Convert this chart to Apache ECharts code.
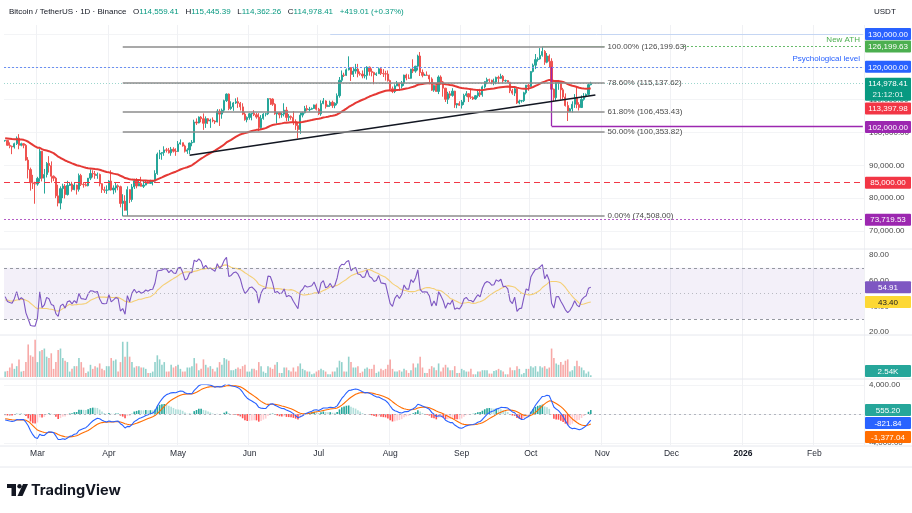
<!DOCTYPE html>
<html><head><meta charset="utf-8">
<script src="https://cdn.jsdelivr.net/npm/echarts@6/dist/echarts.min.js"></script>
<style>html,body{margin:0;padding:0;background:#fff}#c{width:912px;height:513px}</style>
</head><body><div id="c"></div>
<script>
// ---------- DATA (prices in thousands of USDT, volume in thousands of BTC) ----------
const startDate = [2025, 1, 15];      // 15 Feb 2025 (first candle)
const totalDays = 373;                // time axis runs to 22 Feb 2026
// closes before the first visible candle (27 Dec 2024 .. 14 Feb 2025), used only to warm up indicators
const warmupCloses = [94.2,95.1,93.7,92.8,93.6,94.6,97.0,98.1,98.2,98.3,102.2,96.9,95.0,92.5,94.7,94.5,94.5,94.5,96.5,100.5,99.9,104.1,104.4,101.3,102.2,106.1,103.6,104.0,104.7,104.7,102.6,102.0,101.3,103.7,104.7,102.4,100.6,97.7,101.4,97.9,96.6,96.5,96.5,96.5,96.4,97.4,95.7,97.8,96.6,97.5];
const opens = [97.5,97.6,96.1,95.8,95.6,96.6,98.3,96.1,96.6,96.1,91.6,88.7,84.7,84.4,
84.3,86.0,94.3,86.1,87.2,90.6,89.9,86.7,86.1,80.7,78.5,82.9,83.7,81.1,83.9,84.3,82.6,84.0,82.7,86.9,84.2,84.1,83.8,86.1,87.5,87.4,86.9,87.2,84.4,82.6,82.4,
82.5,85.2,82.5,83.1,83.8,83.5,78.4,79.1,76.3,82.6,79.6,83.4,85.3,83.7,84.5,83.6,84.0,84.9,84.5,85.1,85.2,87.5,93.4,93.7,93.9,94.7,94.6,93.8,94.9,94.3,
94.2,96.5,96.9,95.9,94.3,94.7,96.8,97.0,103.2,102.9,104.7,104.2,102.8,104.2,103.5,103.8,103.5,103.2,106.5,105.6,106.8,109.7,111.7,107.3,107.8,109.0,109.4,108.9,107.8,105.6,103.9,
104.6,105.7,105.9,105.4,104.7,101.5,104.3,105.6,105.7,110.3,110.2,108.6,105.7,106.1,105.4,105.6,106.8,104.6,104.9,104.6,103.3,102.1,100.9,105.3,106.0,107.3,106.9,107.1,107.3,108.4,
107.1,105.7,108.8,109.6,107.9,108.2,109.2,108.2,108.9,111.2,115.9,117.5,117.4,119.1,119.8,117.7,118.7,119.3,117.9,117.8,117.2,117.4,119.9,118.6,118.3,117.6,117.9,119.4,118.0,117.9,117.8,
115.8,113.3,112.5,114.2,115.0,114.1,115.0,117.5,116.6,116.5,119.3,118.7,120.2,123.3,118.3,117.4,117.5,117.4,116.3,112.9,114.3,112.5,116.9,115.4,113.5,110.1,111.8,111.3,112.6,108.4,108.8,
108.3,109.3,111.3,111.8,110.8,110.7,110.2,111.2,112.1,111.5,113.9,115.5,116.1,115.9,115.3,115.4,116.8,116.5,117.1,115.7,115.8,115.3,112.7,112.0,113.3,109.0,109.6,109.7,112.1,114.4,
114.0,118.6,120.5,122.2,122.4,123.5,124.7,121.4,123.3,121.7,113.2,110.6,115.2,115.3,113.0,110.8,108.2,106.4,107.2,108.6,110.6,108.5,107.6,110.1,111.0,111.6,114.559];
const highs = [97.7,97.7,97.0,96.0,96.9,98.8,99.5,96.9,96.7,96.5,92.5,89.3,87.1,85.0,
86.5,95.0,94.4,88.9,91.0,92.8,91.2,86.9,86.5,84.1,83.6,84.4,84.3,85.3,84.7,85.0,84.7,84.1,87.5,87.4,84.9,84.6,86.1,88.8,88.5,88.3,87.8,87.5,84.6,83.5,83.9,
85.5,88.5,83.9,84.7,84.2,83.8,81.2,80.9,83.6,82.7,84.3,85.9,86.1,85.8,86.5,85.5,85.5,85.1,85.6,85.3,88.5,93.9,94.7,94.0,95.8,95.3,95.3,95.6,95.5,95.2,
97.4,97.9,96.9,96.3,95.2,96.9,97.7,103.9,104.3,104.9,105.0,105.8,104.9,104.4,104.2,104.6,103.7,107.1,107.1,107.3,110.0,111.9,111.9,109.5,109.3,110.4,110.7,109.3,108.9,106.3,104.9,
105.9,105.9,106.8,106.0,105.9,105.3,105.9,106.0,110.5,110.4,110.4,108.9,106.2,106.2,106.1,108.9,107.8,105.6,105.2,106.5,104.0,103.1,106.1,106.3,108.1,108.3,107.8,107.6,108.5,108.8,
107.5,109.8,110.5,109.8,108.5,109.7,109.7,109.2,111.9,116.9,118.9,118.2,119.5,123.2,119.9,120.0,120.9,120.9,118.6,118.9,119.7,120.2,120.1,119.5,118.5,118.3,119.8,119.8,119.3,118.8,118.9,
116.1,114.0,114.7,115.7,115.1,115.7,117.6,117.9,117.7,119.4,122.3,120.3,123.7,124.5,119.2,117.9,118.6,117.6,116.8,114.6,114.8,117.4,117.4,115.7,113.6,112.4,112.6,113.5,112.7,108.9,109.5,
109.9,111.8,112.6,112.0,113.4,111.0,111.4,112.9,113.3,114.3,115.6,116.7,116.4,116.1,116.4,117.0,117.3,117.9,117.5,116.1,115.9,115.4,113.3,114.0,113.5,110.0,109.8,112.4,114.5,114.8,
118.7,121.0,123.9,122.9,125.7,126.2,125.1,124.2,123.8,122.6,113.4,115.8,116.0,115.6,113.6,111.9,109.4,107.5,109.5,111.7,114.0,109.2,111.3,112.0,111.9,115.0,115.445];
const lows = [97.2,96.0,95.2,93.4,95.1,96.2,94.9,95.8,95.2,91.4,86.0,82.3,82.8,78.3,
83.8,85.0,85.1,81.4,86.3,87.8,84.7,85.2,80.0,77.5,76.6,80.0,79.9,80.8,83.7,82.0,82.4,81.1,82.0,83.7,83.2,83.6,83.6,85.5,86.3,85.9,85.9,83.6,81.6,81.6,81.3,
82.4,82.3,81.2,81.7,82.4,77.2,74.5,76.2,74.6,78.5,78.9,82.8,83.0,83.7,83.6,83.1,83.9,84.3,84.4,83.9,85.1,87.1,91.9,91.7,92.9,93.9,93.6,92.9,93.9,92.9,
94.1,96.3,95.7,93.9,93.5,93.4,95.8,96.9,102.3,102.8,103.1,100.8,101.4,102.6,101.4,103.1,102.6,103.1,102.0,104.2,106.1,109.3,106.8,106.9,106.6,108.7,107.5,106.7,105.3,103.6,103.1,
103.9,103.7,105.0,104.2,100.4,101.1,103.9,104.9,105.3,108.4,108.1,105.4,102.7,104.3,104.5,104.9,103.4,103.5,103.9,102.3,100.8,98.2,99.6,104.6,105.8,106.6,106.4,106.9,107.2,106.7,
105.3,105.1,108.6,107.3,107.8,107.8,107.5,107.4,108.3,110.6,115.2,116.9,117.2,118.9,115.7,116.9,117.9,116.8,117.3,116.5,116.5,116.1,117.3,117.1,114.7,117.2,117.9,117.5,116.9,115.8,115.5,
112.7,112.0,112.0,114.1,112.7,113.4,114.2,115.9,116.3,116.4,118.1,118.2,118.9,117.2,116.8,117.2,117.3,114.7,112.7,112.4,112.4,111.7,114.6,110.9,109.3,108.7,110.4,110.9,107.5,107.4,108.1,
107.3,108.4,110.9,109.3,110.2,109.9,110.0,110.6,110.8,110.9,113.4,114.7,115.2,114.7,114.4,114.7,114.8,116.3,115.1,115.4,115.2,112.0,111.5,111.1,108.7,108.6,109.1,109.3,111.6,112.7,
113.9,118.3,119.3,121.6,122.2,123.1,120.6,121.1,119.7,102.0,109.6,109.6,113.0,110.0,110.2,107.9,103.5,106.3,106.1,107.5,107.4,106.7,107.5,109.7,110.7,111.3,114.362];
const closes = [97.6,96.1,95.8,95.6,96.6,98.3,96.1,96.6,96.1,91.6,88.7,84.7,84.4,84.3,
86.0,94.3,86.1,87.2,90.6,89.9,86.7,86.1,80.7,78.5,82.9,83.7,81.1,83.9,84.3,82.6,84.0,82.7,86.9,84.2,84.1,83.8,86.1,87.5,87.4,86.9,87.2,84.4,82.6,82.4,82.5,
85.2,82.5,83.1,83.8,83.5,78.4,79.1,76.3,82.6,79.6,83.4,85.3,83.7,84.5,83.6,84.0,84.9,84.5,85.1,85.2,87.5,93.4,93.7,93.9,94.7,94.6,93.8,94.9,94.3,94.2,
96.5,96.9,95.9,94.3,94.7,96.8,97.0,103.2,102.9,104.7,104.2,102.8,104.2,103.5,103.8,103.5,103.2,106.5,105.6,106.8,109.7,111.7,107.3,107.8,109.0,109.4,108.9,107.8,105.6,103.9,104.6,
105.7,105.9,105.4,104.7,101.5,104.3,105.6,105.7,110.3,110.2,108.6,105.7,106.1,105.4,105.6,106.8,104.6,104.9,104.6,103.3,102.1,100.9,105.3,106.0,107.3,106.9,107.1,107.3,108.4,107.1,
105.7,108.8,109.6,107.9,108.2,109.2,108.2,108.9,111.2,115.9,117.5,117.4,119.1,119.8,117.7,118.7,119.3,117.9,117.8,117.2,117.4,119.9,118.6,118.3,117.6,117.9,119.4,118.0,117.9,117.8,115.8,
113.3,112.5,114.2,115.0,114.1,115.0,117.5,116.6,116.5,119.3,118.7,120.2,123.3,118.3,117.4,117.5,117.4,116.3,112.9,114.3,112.5,116.9,115.4,113.5,110.1,111.8,111.3,112.6,108.4,108.8,108.3,
109.3,111.3,111.8,110.8,110.7,110.2,111.2,112.1,111.5,113.9,115.5,116.1,115.9,115.3,115.4,116.8,116.5,117.1,115.7,115.8,115.3,112.7,112.0,113.3,109.0,109.6,109.7,112.1,114.4,114.0,
118.6,120.5,122.2,122.4,123.5,124.7,121.4,123.3,121.7,113.2,110.6,115.2,115.3,113.0,110.8,108.2,106.4,107.2,108.6,110.6,108.5,107.6,110.1,111.0,111.6,114.56,114.978];
const volumes = [8,9,14,20,12,16,26,8,9,22,48,32,30,55,
22,38,40,42,30,28,35,12,22,40,42,28,24,22,8,12,16,16,28,22,14,6,8,18,12,16,14,20,12,10,16,
16,28,24,26,8,22,52,30,52,30,22,14,16,16,14,14,12,6,6,8,22,32,26,18,22,8,8,18,14,16,
18,12,8,8,14,14,16,28,20,10,12,26,18,14,16,12,8,14,22,18,28,26,24,10,10,12,14,12,16,18,8,
8,12,12,10,22,16,8,6,16,14,12,18,22,6,6,14,14,10,8,14,8,16,20,12,10,8,8,4,5,8,
10,12,10,8,4,4,8,8,14,24,22,8,8,30,22,14,14,16,6,8,12,14,12,12,18,6,8,12,10,12,18,
26,12,8,8,10,8,12,10,6,10,20,14,20,30,14,6,6,12,16,14,10,20,8,14,18,14,10,10,16,6,6,
12,10,8,8,12,4,4,8,8,10,10,10,5,5,9,10,12,10,8,4,4,14,10,10,16,12,4,6,12,12,
16,14,16,8,16,14,16,12,14,42,28,20,18,22,18,24,26,8,10,16,24,16,14,10,5,8,2.54];
// Fibonacci retracement (from the 7 Apr low to the 6 Oct high)
const fibNames  = ['100.00%','78.60%','61.80%','50.00%','0.00%'];
const fibValues = [126199.63,115137.62,106453.43,100353.82,74508.00];
// horizontal levels
const levelATH = 126199.63, levelPsych = 120000, level130 = 130000, levelSupport = 102000, level85 = 85000, levelLow = 73719.53;
// trend line end points [day index, price]
const trendStart = [80, 93100], trendEnd = [256, 111400];
// right-hand value tags
const lastPrice = 114978.41, countdown = '21:12:01', emaTag = 113397.98;
const rsiTag = 54.91, rsiMaTag = 43.40, volTag = '2.54K';
const macdHistTag = 555.20, macdTag = -821.84, signalTag = -1377.04;
const header = {o:'114,559.41', h:'115,445.39', l:'114,362.26', c:'114,978.41', chg:'+419.01 (+0.37%)'};

// ---------- helpers ----------
const FONT = 'Liberation Sans, Arial, sans-serif';
const UP = '#26a69a', DOWN = '#ef5350';
const MON = ['Jan','Feb','Mar','Apr','May','Jun','Jul','Aug','Sep','Oct','Nov','Dec'];
const cats = [];
const d0 = Date.UTC(startDate[0], startDate[1], startDate[2]);
for (let i = 0; i < totalDays; i++) cats.push(new Date(d0 + i * 86400000).toISOString().slice(0, 10));
const isMonthStart = (i, v) => v.slice(8) === '01';
const monthLabel = v => { const m = +v.slice(5, 7) - 1; return m === 0 ? '{y|' + v.slice(0, 4) + '}' : MON[m]; };
const fmt = v => v.toLocaleString('en-US', {minimumFractionDigits: 2, maximumFractionDigits: 2});
const K = v => v * 1000;

const nW = warmupCloses.length;
const allC = warmupCloses.concat(closes).map(K);
function ema(arr, n) { const k = 2 / (n + 1); const out = [arr[0]]; for (let i = 1; i < arr.length; i++) out.push(arr[i] * k + out[i - 1] * (1 - k)); return out; }
function rsi(arr, n) {
  const out = new Array(arr.length).fill(null); let g = 0, l = 0;
  for (let i = 1; i <= n; i++) { const d = arr[i] - arr[i - 1]; if (d > 0) g += d; else l -= d; }
  g /= n; l /= n; out[n] = 100 - 100 / (1 + g / l);
  for (let i = n + 1; i < arr.length; i++) { const d = arr[i] - arr[i - 1]; g = (g * (n - 1) + Math.max(d, 0)) / n; l = (l * (n - 1) + Math.max(-d, 0)) / n; out[i] = l === 0 ? 100 : 100 - 100 / (1 + g / l); }
  return out;
}
function sma(arr, n) { return arr.map((v, i) => { if (i < n - 1) return null; let s = 0; for (let j = i - n + 1; j <= i; j++) { if (arr[j] == null) return null; s += arr[j]; } return s / n; }); }
const ema50 = ema(allC, 50).slice(nW);
const rsiAll = rsi(allC, 14), rsiMaAll = sma(rsiAll, 14);
const rsiVis = rsiAll.slice(nW), rsiMaVis = rsiMaAll.slice(nW);
const e12 = ema(allC, 12), e26 = ema(allC, 26);
const macdAll = e12.map((v, i) => v - e26[i]);
const sigAll = ema(macdAll, 9);
const macdVis = macdAll.slice(nW), sigVis = sigAll.slice(nW);
const histVis = macdVis.map((v, i) => v - sigVis[i]);
const histPrevAll = macdAll.map((v, i) => v - sigAll[i]).slice(nW - 1);
const histData = histVis.map((h, i) => {
  const p = histPrevAll[i];
  const col = h >= 0 ? (h > p ? '#26a69a' : '#b2dfdb') : (h > p ? '#ffcdd2' : '#ff5252');
  return {value: h, itemStyle: {color: col}};
});
const candleData = closes.map((c, i) => [K(opens[i]), K(c), K(lows[i]), K(highs[i])]);
const volData = volumes.map((v, i) => ({value: v, itemStyle: {color: closes[i] >= opens[i] ? 'rgba(38,166,154,0.5)' : 'rgba(239,83,80,0.5)'}}));

// ---------- layout ----------
const L = 4, R = 48;
const grids = [
  {left: L, right: R, top: 34, height: 197},   // price
  {left: L, right: R, top: 255, height: 77},   // RSI
  {left: L, right: R, top: 335, height: 42},   // volume
  {left: L, right: R, top: 385, height: 58},   // MACD
  {left: L, right: R, top: 25, height: 420}    // background vertical grid
];
function xAx(gi, labels) {
  return {type: 'category', gridIndex: gi, data: cats, boundaryGap: true,
    axisLine: {show: false}, axisTick: {show: false},
    axisLabel: {show: labels, interval: isMonthStart, formatter: monthLabel, fontSize: 8.5, color: '#2a2e39', margin: 6, fontFamily: FONT,
      rich: {y: {fontWeight: 'bold', fontSize: 8.5, color: '#131722', fontFamily: FONT}}},
    splitLine: {show: gi === 4, interval: isMonthStart, lineStyle: {color: '#f0f1f4', width: 1}}};
}
const yLab = {fontSize: 8, color: '#4a4a4a', margin: 5, fontFamily: FONT};
const fibLines = fibValues.map((v, i) => [
  {coord: [51, v], lineStyle: {color: '#8c8c8c', width: 1.5, type: 'solid'},
   label: {show: true, position: 'end', distance: 3, formatter: fibNames[i] + ' (' + fmt(v) + ')', color: '#4a4a4a', fontSize: 8, fontFamily: FONT}},
  {coord: [260, v]}
]);
const last = totalDays - 1;
const priceLines = [
  {yAxis: levelPsych, lineStyle: {color: '#6b90f2', type: [2, 2], width: 1}},
  {yAxis: level85, lineStyle: {color: '#f23645', type: [6, 4], width: 1.2}},
  {yAxis: levelLow, lineStyle: {color: '#b45cc6', type: [2, 2], width: 1}},
  {yAxis: lastPrice, lineStyle: {color: '#089981', type: [1, 2], width: 1, opacity: 0.4}},
  [{coord: [141, level130], lineStyle: {color: '#c5d6f3', type: 'solid', width: 1}}, {coord: [last, level130]}],
  [{coord: [294, levelATH], lineStyle: {color: '#66bb6a', type: [2, 2], width: 1}}, {coord: [last, levelATH]}],
  [{coord: [233, levelATH], lineStyle: {color: '#a5d6a7', type: 'solid', width: 1}}, {coord: [260, levelATH]}],
  [{coord: [237, levelPsych], lineStyle: {color: '#9c27b0', type: 'solid', width: 1.3}}, {coord: [237, levelSupport]}],
  [{coord: [237, levelSupport], lineStyle: {color: '#9c27b0', type: 'solid', width: 1.3}}, {coord: [last, levelSupport]}],
  [{coord: trendStart, lineStyle: {color: '#131722', type: 'solid', width: 1.5}}, {coord: trendEnd}]
].concat(fibLines);

const option = {
  animation: false,
  backgroundColor: '#ffffff',
  textStyle: {fontFamily: FONT},
  grid: grids,
  xAxis: [xAx(0, false), xAx(1, false), xAx(2, false), xAx(3, true), xAx(4, false)],
  yAxis: [
    {type: 'value', gridIndex: 0, position: 'right', min: 70000, max: 130000, interval: 10000, axisLine: {show: false}, axisTick: {show: false},
     axisLabel: Object.assign({formatter: v => fmt(v)}, yLab), splitLine: {lineStyle: {color: '#f3f4f6'}}},
    {type: 'value', gridIndex: 1, position: 'right', min: 20, max: 80, interval: 20, axisLine: {show: false}, axisTick: {show: false},
     axisLabel: Object.assign({formatter: v => fmt(v)}, yLab), splitLine: {show: false}},
    {type: 'value', gridIndex: 2, position: 'right', min: 0, max: 62, show: false},
    {type: 'value', gridIndex: 3, position: 'right', min: -4000, max: 4000, interval: 4000, axisLine: {show: false}, axisTick: {show: false},
     axisLabel: Object.assign({formatter: v => fmt(v)}, yLab), splitLine: {lineStyle: {color: '#f3f4f6'}}},
    {type: 'value', gridIndex: 4, show: false}
  ],
  series: [
    {type: 'candlestick', name: 'BTCUSDT', xAxisIndex: 0, yAxisIndex: 0, data: candleData, barWidth: 1.7,
     itemStyle: {color: UP, color0: DOWN, borderColor: UP, borderColor0: DOWN, borderWidth: 1},
     markLine: {silent: true, symbol: ['none', 'none'], animation: false, label: {show: false}, data: priceLines}},
    {type: 'line', name: 'EMA 50', xAxisIndex: 0, yAxisIndex: 0, data: ema50, showSymbol: false, smooth: false,
     lineStyle: {color: '#e53935', width: 2}, z: 3},
    {type: 'line', name: 'RSI', xAxisIndex: 1, yAxisIndex: 1, data: rsiVis, showSymbol: false, lineStyle: {color: '#7e57c2', width: 1.1}, z: 4,
     markArea: {silent: true, itemStyle: {color: 'rgba(126,87,194,0.09)'}, data: [[{yAxis: 30}, {yAxis: 70}]]},
     markLine: {silent: true, symbol: ['none', 'none'], label: {show: false}, data: [
       {yAxis: 70, lineStyle: {color: '#9598a1', type: [3, 3], width: 1}},
       {yAxis: 50, lineStyle: {color: '#b8bac2', type: [1, 3], width: 1}},
       {yAxis: 30, lineStyle: {color: '#9598a1', type: [3, 3], width: 1}}]}},
    {type: 'line', name: 'RSI MA', xAxisIndex: 1, yAxisIndex: 1, data: rsiMaVis, showSymbol: false, lineStyle: {color: '#f4c95d', width: 1.1, opacity: 0.85}, z: 3},
    {type: 'bar', name: 'Volume', xAxisIndex: 2, yAxisIndex: 2, data: volData, barWidth: 1.6},
    {type: 'bar', name: 'Histogram', xAxisIndex: 3, yAxisIndex: 3, data: histData, barWidth: 1.6,
     markLine: {silent: true, symbol: ['none', 'none'], label: {show: false}, data: [{yAxis: 0, lineStyle: {color: '#b2b5be', type: [2, 3], width: 1}}]}},
    {type: 'line', name: 'MACD', xAxisIndex: 3, yAxisIndex: 3, data: macdVis, showSymbol: false, lineStyle: {color: '#2962ff', width: 1.1}, z: 4},
    {type: 'line', name: 'Signal', xAxisIndex: 3, yAxisIndex: 3, data: sigVis, showSymbol: false, lineStyle: {color: '#ff6d00', width: 1.1}, z: 3}
  ]
};

const chart = echarts.init(document.getElementById('c'));
chart.setOption(option);

// ---------- right-hand tags and annotations (positions from the chart's own scales) ----------
const els = [];
function px(axis, v) { return chart.convertToPixel({yAxisIndex: axis}, v); }
function tag(y, text, bg, fg) {
  els.push({type: 'rect', z: 100, shape: {x: 865, y: y - 6, width: 46, height: 12, r: 1}, style: {fill: bg}});
  els.push({type: 'text', z: 101, style: {x: 888, y: y + 0.5, text: text, fill: fg, fontSize: 8, fontFamily: FONT, align: 'center', verticalAlign: 'middle'}});
}
tag(px(0, level130), fmt(level130), '#2962ff', '#fff');
tag(px(0, levelATH), fmt(levelATH), '#4caf50', '#fff');
tag(px(0, levelPsych), fmt(levelPsych), '#2962ff', '#fff');
{
  const y = px(0, lastPrice);
  els.push({type: 'rect', z: 100, shape: {x: 865, y: y - 5.5, width: 46, height: 23, r: 1}, style: {fill: '#089981'}});
  els.push({type: 'text', z: 101, style: {x: 888, y: y + 0.5, text: fmt(lastPrice), fill: '#fff', fontSize: 8, fontFamily: FONT, align: 'center', verticalAlign: 'middle'}});
  els.push({type: 'text', z: 101, style: {x: 888, y: y + 11.5, text: countdown, fill: '#e6f4f1', fontSize: 8, fontFamily: FONT, align: 'center', verticalAlign: 'middle'}});
}
tag(px(0, emaTag) + 20, fmt(emaTag), '#f23645', '#fff');
tag(px(0, levelSupport) + 1, fmt(levelSupport), '#9c27b0', '#fff');
tag(px(0, level85) + 1, fmt(level85), '#f23645', '#fff');
tag(px(0, levelLow) + 1, fmt(levelLow), '#9c27b0', '#fff');
tag(px(1, rsiTag), fmt(rsiTag), '#7e57c2', '#fff');
tag(px(1, rsiMaTag), fmt(rsiMaTag), '#fdd835', '#131722');
tag(Math.min(px(2, volumes[volumes.length - 1]), 371), volTag, '#26a69a', '#fff');
tag(px(3, macdHistTag), fmt(macdHistTag), '#26a69a', '#fff');
tag(px(3, macdTag) + 3, fmt(macdTag), '#2962ff', '#fff');
tag(px(3, signalTag) + 13, fmt(signalTag), '#ff6d00', '#fff');
// level captions
els.push({type: 'text', z: 90, style: {x: 860, y: px(0, levelATH) - 7, text: 'New ATH', fill: '#4caf50', fontSize: 8, fontFamily: FONT, align: 'right', verticalAlign: 'middle'}});
els.push({type: 'text', z: 90, style: {x: 860, y: px(0, levelPsych) - 8, text: 'Psychological level', fill: '#2962ff', fontSize: 8, fontFamily: FONT, align: 'right', verticalAlign: 'middle'}});
// header
els.push({type: 'text', z: 90, style: {x: 9, y: 12, fontFamily: FONT, verticalAlign: 'middle',
  text: '{t|Bitcoin / TetherUS · 1D · Binance}  {k|O}{v|' + header.o + '}  {k|H}{v|' + header.h + '}  {k|L}{v|' + header.l + '}  {k|C}{v|' + header.c + '}  {v|' + header.chg + '}',
  rich: {t: {fontSize: 8, fill: '#131722', fontFamily: FONT}, k: {fontSize: 8, fill: '#131722', fontFamily: FONT}, v: {fontSize: 8, fill: '#089981', fontFamily: FONT}}}});
els.push({type: 'text', z: 90, style: {x: 874, y: 12, text: 'USDT', fill: '#131722', fontSize: 8, fontFamily: FONT, verticalAlign: 'middle'}});
// pane separators and frame
[249, 335, 379, 446, 467].forEach(y => els.push({type: 'line', z: 50, shape: {x1: 0, y1: y, x2: 912, y2: y}, style: {stroke: '#e6e8ee', lineWidth: 1}}));
// TradingView logo
els.push({type: 'rect', z: 90, shape: {x: 7, y: 484, width: 9, height: 4}, style: {fill: '#131722'}});
els.push({type: 'rect', z: 90, shape: {x: 11.5, y: 484, width: 4.5, height: 12}, style: {fill: '#131722'}});
els.push({type: 'circle', z: 90, shape: {cx: 19.5, cy: 486.2, r: 2.2}, style: {fill: '#131722'}});
els.push({type: 'polygon', z: 90, shape: {points: [[23, 484], [28, 484], [22.5, 496], [17.5, 496]]}, style: {fill: '#131722'}});
els.push({type: 'text', z: 90, style: {x: 31, y: 490.5, text: 'TradingView', fill: '#131722', fontSize: 14.5, fontWeight: 'bold', fontFamily: 'Inter, Liberation Sans, sans-serif', verticalAlign: 'middle'}});
chart.setOption({graphic: {elements: els}});
</script>
</body></html>
